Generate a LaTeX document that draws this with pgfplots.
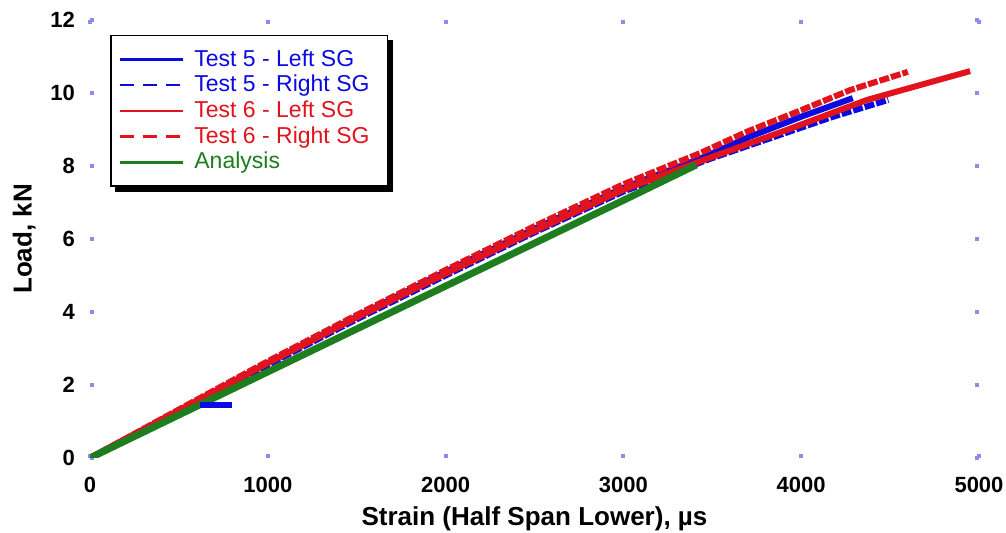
\documentclass[border=0pt]{standalone}
\usepackage{pgfplots}
\pgfplotsset{compat=1.18}
\usepackage{fontspec}
\setmainfont{Liberation Sans}
\pgfdeclarelayer{background}
\pgfsetlayers{background,main}
\definecolor{cblue}{RGB}{10,10,225}
\definecolor{cred}{RGB}{225,20,30}
\definecolor{cgreen}{RGB}{30,125,30}
\definecolor{tickblue}{RGB}{140,140,240}
\begin{document}
\begin{tikzpicture}
\begin{axis}[
  scale only axis,
  width=444.5pt, height=219pt,
  xmin=0, xmax=5000, ymin=0, ymax=12,
  xtick={0,1000,...,5000}, ytick={0,2,...,12},
  axis line style={draw=none},
  tick align=inside,
  major tick length=2pt,
  tick style={color=tickblue, line width=2pt},
  /pgf/number format/assume math mode=true,
  /pgf/number format/1000 sep={},
  ticklabel style={font=\fontsize{11}{13}\selectfont\bfseries},
  xticklabel style={yshift=-6pt},
  yticklabel style={xshift=-4pt},
  xlabel={Strain (Half Span Lower), µs},
  ylabel={Load, kN},
  label style={font=\fontsize{13}{15}\selectfont\bfseries},
  xlabel style={yshift=0pt},
  ylabel style={yshift=0.5pt},
  legend style={name=myleg, at={(0.0225,0.966)}, anchor=north west, draw=black, line width=0.8pt,
    fill=white, font=\fontsize{11.5}{13}\selectfont,
    inner xsep=4pt, inner ysep=5pt, row sep=-1pt,
    nodes={inner xsep=5pt}},
  legend cell align=left,
]
\addplot[cblue, line width=3pt,
  legend image code/.code={\draw[cblue, line width=1.3pt] (0cm,0cm) -- (1.1cm,0cm);}] coordinates {
 (0,0) (500,1.3) (1000,2.6) (1500,3.87) (2000,5.1) (2500,6.28) (3000,7.4)
 (3430,8.2) (3710,8.8) (4000,9.35) (4290,9.86)};
\addlegendentry{\textcolor{cblue}{Test 5 - Left SG}}
\addplot[cblue, line width=3pt, dash pattern=on 5pt off 1pt,
  legend image code/.code={\draw[cblue, line width=1.3pt, dash pattern=on 7pt off 4.5pt] (0cm,0cm) -- (1.1cm,0cm);}] coordinates {
 (0,0) (500,1.28) (1000,2.55) (1500,3.8) (2000,5.0) (2500,6.18) (3000,7.3)
 (3490,8.2) (3940,8.95) (4180,9.35) (4490,9.81)};
\addlegendentry{\textcolor{cblue}{Test 5 - Right SG}}
\addplot[cred, line width=3pt,
  legend image code/.code={\draw[cred, line width=1.3pt] (0cm,0cm) -- (1.1cm,0cm);}] coordinates {
 (0,0) (500,1.3) (1000,2.6) (1500,3.85) (2000,5.05) (2500,6.22) (3000,7.35)
 (3500,8.25) (3920,8.99) (4370,9.81) (4950,10.6)};
\addlegendentry{\textcolor{cred}{Test 6 - Left SG}}
\addplot[cred, line width=3pt, dash pattern=on 5pt off 1pt,
  legend image code/.code={\draw[cred, line width=1.3pt, dash pattern=on 7pt off 4.5pt] (0cm,0cm) -- (1.1cm,0cm);}] coordinates {
 (0,0) (500,1.33) (1000,2.65) (1500,3.92) (2000,5.15) (2500,6.35) (3000,7.5)
 (3430,8.35) (3700,8.95) (4000,9.53) (4275,10.08) (4600,10.58)};
\addlegendentry{\textcolor{cred}{Test 6 - Right SG}}
\addplot[cgreen, line width=3.5pt,
  legend image code/.code={\draw[cgreen, line width=1.5pt] (0cm,0cm) -- (1.1cm,0cm);}] coordinates {
 (0,0) (1000,2.36) (2000,4.71) (3000,7.06) (3410,8.03)};
\addlegendentry{\textcolor{cgreen}{Analysis}}
\addplot[cblue, line width=3pt, forget plot] coordinates {(620,1.45) (800,1.45)};
\coordinate (bl) at (rel axis cs:0,0);
\end{axis}
\begin{pgfonlayer}{background}
\fill[black] ([shift={(2.5pt,-2.5pt)}]myleg.south west) rectangle ([shift={(2.5pt,-2.5pt)}]myleg.north east);
\end{pgfonlayer}
\pgfresetboundingbox
\path[use as bounding box] (bl) ++(-45pt,-37.5pt) rectangle ++(503pt,266.5pt);
\end{tikzpicture}
\end{document}
